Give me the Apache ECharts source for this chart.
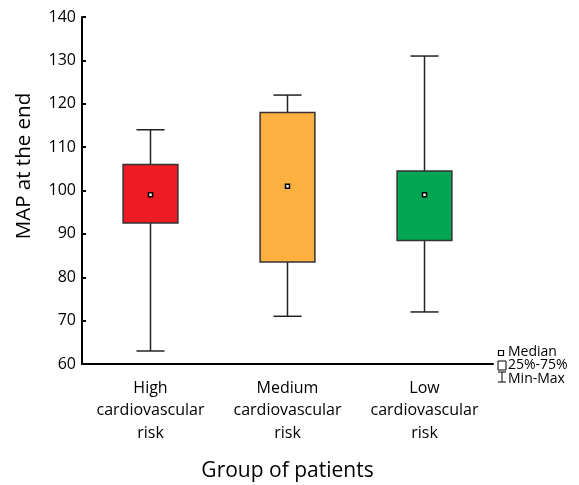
<!DOCTYPE html>
<html>
<head>
<meta charset="utf-8">
<script src="https://cdn.jsdelivr.net/npm/echarts@6/dist/echarts.min.js"></script>
<style>html,body{margin:0;padding:0;background:#fff}#c{width:579px;height:485px}</style>
</head>
<body>
<div id="c"></div>
<script>
const categories = ['High\ncardiovascular\nrisk', 'Medium\ncardiovascular\nrisk', 'Low\ncardiovascular\nrisk'];
const minVals = [63, 71, 72];
const q1Vals = [92.5, 83.5, 88.5];
const medianVals = [99, 101, 99];
const q3Vals = [106, 118, 104.5];
const maxVals = [114, 122, 131];
const boxColors = ['#ED1C24', '#FBB040', '#00A651'];
const yTicks = [60, 70, 80, 90, 100, 110, 120, 130, 140];

const FONT = '"Open Sans", "Noto Sans", sans-serif';
const data = categories.map((c, i) => [i, minVals[i], q1Vals[i], medianVals[i], q3Vals[i], maxVals[i]]);

const chart = echarts.init(document.getElementById('c'), null, {renderer: 'canvas'});
chart.setOption({
  animation: false,
  backgroundColor: '#fff',
  grid: {left: 82, right: 86, top: 17, bottom: 121, containLabel: false, outerBoundsMode: 'none'},
  xAxis: {
    type: 'category',
    data: categories,
    name: 'Group of patients',
    nameLocation: 'middle',
    nameGap: 97,
    nameTextStyle: {fontFamily: FONT, fontSize: 21, color: '#000'},
    axisLine: {lineStyle: {color: '#000', width: 2}},
    axisTick: {alignWithLabel: true, length: 3, lineStyle: {color: '#000', width: 2}},
    axisLabel: {interval: 0, hideOverlap: false, fontFamily: FONT, fontSize: 16, color: '#000', lineHeight: 22.5, margin: 13}
  },
  yAxis: {
    type: 'value',
    min: yTicks[0], max: yTicks[yTicks.length - 1], interval: 10,
    axisLine: {show: true, lineStyle: {color: '#000', width: 2}},
    axisTick: {show: true, inside: true, length: 4, lineStyle: {color: '#000', width: 2}},
    axisLabel: {fontFamily: FONT, fontSize: 16, color: '#000', margin: 6},
    splitLine: {show: false}
  },
  series: [{
    type: 'custom',
    data: data,
    encode: {x: 0, y: [1, 2, 3, 4, 5]},
    renderItem: function (params, api) {
      const i = api.value(0);
      const band = api.size([1, 0])[0];
      const bw = band * 0.40, cw = band * 0.205;
      const pMin = api.coord([i, api.value(1)]);
      const pQ1 = api.coord([i, api.value(2)]);
      const pMed = api.coord([i, api.value(3)]);
      const pQ3 = api.coord([i, api.value(4)]);
      const pMax = api.coord([i, api.value(5)]);
      const x = pMin[0];
      const ls = {stroke: '#222', lineWidth: 1.5};
      return {
        type: 'group',
        children: [
          {type: 'line', shape: {x1: x, y1: pMax[1], x2: x, y2: pQ3[1]}, style: ls},
          {type: 'line', shape: {x1: x, y1: pQ1[1], x2: x, y2: pMin[1]}, style: ls},
          {type: 'line', shape: {x1: x - cw / 2, y1: pMax[1], x2: x + cw / 2, y2: pMax[1]}, style: ls},
          {type: 'line', shape: {x1: x - cw / 2, y1: pMin[1], x2: x + cw / 2, y2: pMin[1]}, style: ls},
          {type: 'rect', shape: {x: x - bw / 2, y: pQ3[1], width: bw, height: pQ1[1] - pQ3[1]},
            style: {fill: boxColors[i], stroke: '#333', lineWidth: 1.5}},
          {type: 'rect', shape: {x: pMed[0] - 2, y: pMed[1] - 2, width: 4, height: 4},
            style: {fill: '#fff', stroke: '#000', lineWidth: 1.5}}
        ]
      };
    }
  }],
  graphic: [
    {type: 'text', x: 24, y: 166, rotation: Math.PI / 2,
      style: {text: 'MAP at the end', fontFamily: FONT, fontSize: 20.5, fill: '#000', align: 'center', verticalAlign: 'middle'}},
    {type: 'rect', shape: {x: 498.5, y: 350.5, width: 5, height: 5}, style: {fill: '#fff', stroke: '#000', lineWidth: 1.2}},
    {type: 'text', left: 508, top: 345, style: {text: 'Median', fontFamily: FONT, fontSize: 14, fill: '#000'}},
    {type: 'rect', shape: {x: 498, y: 361, width: 8, height: 9}, style: {fill: '#fff', stroke: '#000', lineWidth: 1}},
    {type: 'text', left: 508, top: 358.5, style: {text: '25%-75%', fontFamily: FONT, fontSize: 14, fill: '#000'}},
    {type: 'line', shape: {x1: 498, y1: 372, x2: 506, y2: 372}, style: {stroke: '#000', lineWidth: 1}},
    {type: 'line', shape: {x1: 502, y1: 372, x2: 502, y2: 382}, style: {stroke: '#000', lineWidth: 1}},
    {type: 'line', shape: {x1: 498, y1: 382, x2: 506, y2: 382}, style: {stroke: '#000', lineWidth: 1}},
    {type: 'text', left: 508, top: 372, style: {text: 'Min-Max', fontFamily: FONT, fontSize: 14, fill: '#000'}}
  ]
});
</script>
</body>
</html>
